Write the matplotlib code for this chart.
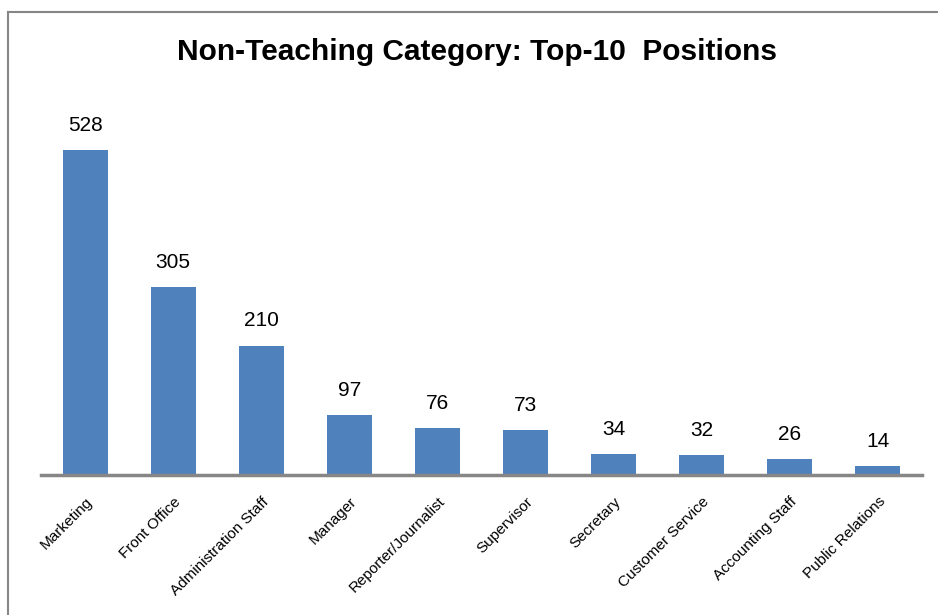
import matplotlib
matplotlib.use("Agg")
import matplotlib.pyplot as plt
from matplotlib.lines import Line2D

categories = ["Marketing", "Front Office", "Administration Staff", "Manager",
              "Reporter/Journalist", "Supervisor", "Secretary",
              "Customer Service", "Accounting Staff", "Public Relations"]
values = [528, 305, 210, 97, 76, 73, 34, 32, 26, 14]
title = "Non-Teaching Category: Top-10  Positions"

W, H = 938, 615
fig = plt.figure(figsize=(W / 100, H / 100), dpi=100)
fig.patch.set_facecolor("white")

# axes placement in pixels
left_px, right_px, bottom_px = 41, 922, 475
ymax = 600
scale = 0.6155
top_px = bottom_px - ymax * scale
ax = fig.add_axes([left_px / W, 1 - bottom_px / H,
                   (right_px - left_px) / W, (bottom_px - top_px) / H])

x = list(range(len(categories)))
bars = ax.bar(x, values, width=0.51, color="#4F81BD", zorder=2)
ax.set_xlim(-0.5, len(categories) - 0.5)
ax.set_ylim(0, ymax)

for xi, v in zip(x, values):
    ax.annotate(str(v), (xi, v), xytext=(0, 11), textcoords="offset points",
                ha="center", va="bottom", fontsize=15, family="Liberation Sans",
                color="#000000")

for s in ["top", "right", "left"]:
    ax.spines[s].set_visible(False)
ax.spines["bottom"].set_color("#868686")
ax.spines["bottom"].set_linewidth(2.5)
ax.set_yticks([])
ax.set_xticks(x)
ax.set_xticklabels(categories, rotation=45, ha="right", rotation_mode="anchor",
                   fontsize=11, family="Liberation Sans")
ax.tick_params(axis="x", length=0, pad=14)

fig.text(477 / W, 1 - 52 / H, title, ha="center", va="center",
         fontsize=21.5, fontweight="bold",
         family=["Liberation Sans Narrow", "Liberation Sans", "DejaVu Sans"])

# chart frame (top and left edges visible)
fig.add_artist(Line2D([7.5 / W, 1.0], [1 - 11.5 / H, 1 - 11.5 / H],
                      transform=fig.transFigure, color="#868686", lw=1.5))
fig.add_artist(Line2D([7.5 / W, 7.5 / W], [0, 1 - 11.5 / H],
                      transform=fig.transFigure, color="#868686", lw=1.5))

fig.savefig("out.png", dpi=100)
